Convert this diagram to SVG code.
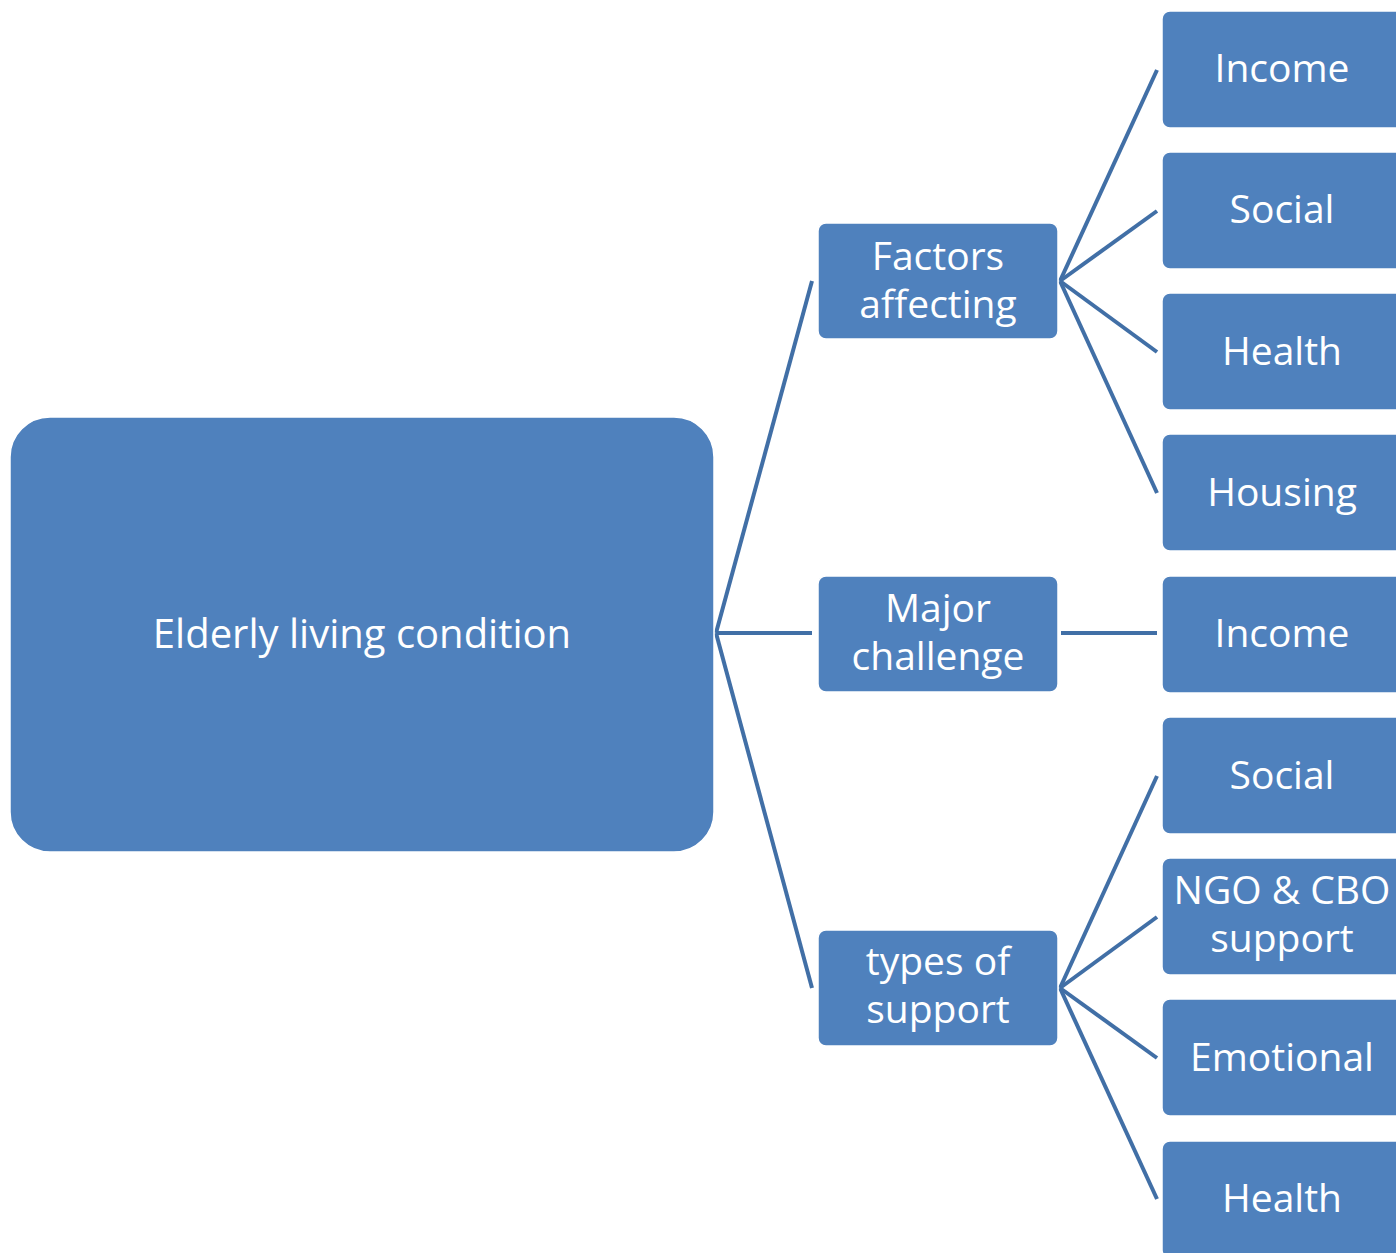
<svg xmlns="http://www.w3.org/2000/svg" width="1396" height="1253" viewBox="0 0 1396 1253">
  <style>
    .box { fill: #4f81bd; stroke: #ffffff; stroke-width: 1.5; }
    .lbl { fill: #ffffff; font-family: "Open Sans", "Noto Sans", sans-serif; font-size: 39px; text-anchor: middle; }
    .lnk { stroke: #416fa6; stroke-width: 4; fill: none; }
  </style>
  <rect width="1396" height="1253" fill="#ffffff"/>

  <!-- connectors -->
  <g id="connectors">
    <path class="lnk" d="M716,633 L812,281"/>
    <path class="lnk" d="M716,633 L812,633"/>
    <path class="lnk" d="M716,633 L812,988"/>
    <path class="lnk" d="M1060,281 L1157,70"/>
    <path class="lnk" d="M1060,281 L1157,211"/>
    <path class="lnk" d="M1060,281 L1157,352"/>
    <path class="lnk" d="M1060,281 L1157,493"/>
    <path class="lnk" d="M1061,633 L1157,633"/>
    <path class="lnk" d="M1060,988 L1157,776"/>
    <path class="lnk" d="M1060,988 L1157,917"/>
    <path class="lnk" d="M1060,988 L1157,1058"/>
    <path class="lnk" d="M1060,988 L1157,1199"/>
  </g>

  <!-- root -->
  <g id="root">
    <rect class="box" x="10" y="417" width="704" height="435" rx="40"/>
    <text class="lbl" x="362" y="648" style="font-size:40px">Elderly living condition</text>
  </g>

  <!-- second level -->
  <g id="factors">
    <rect class="box" x="818" y="223" width="240" height="116" rx="8"/>
    <text class="lbl" x="938" y="270">Factors</text>
    <text class="lbl" x="938" y="318">affecting</text>
  </g>
  <g id="challenge">
    <rect class="box" x="818" y="576" width="240" height="116" rx="8"/>
    <text class="lbl" x="938" y="622">Major</text>
    <text class="lbl" x="938" y="670">challenge</text>
  </g>
  <g id="support">
    <rect class="box" x="818" y="930" width="240" height="116" rx="8"/>
    <text class="lbl" x="938" y="975">types of</text>
    <text class="lbl" x="938" y="1023">support</text>
  </g>

  <!-- third level -->
  <g id="f-income">
    <rect class="box" x="1162" y="11" width="242" height="117" rx="8"/>
    <text class="lbl" x="1282" y="82">Income</text>
  </g>
  <g id="f-social">
    <rect class="box" x="1162" y="152" width="242" height="117" rx="8"/>
    <text class="lbl" x="1282" y="223">Social</text>
  </g>
  <g id="f-health">
    <rect class="box" x="1162" y="293" width="242" height="117" rx="8"/>
    <text class="lbl" x="1282" y="365">Health</text>
  </g>
  <g id="f-housing">
    <rect class="box" x="1162" y="434" width="242" height="117" rx="8"/>
    <text class="lbl" x="1282" y="506">Housing</text>
  </g>
  <g id="c-income">
    <rect class="box" x="1162" y="576" width="242" height="117" rx="8"/>
    <text class="lbl" x="1282" y="647">Income</text>
  </g>
  <g id="s-social">
    <rect class="box" x="1162" y="717" width="242" height="117" rx="8"/>
    <text class="lbl" x="1282" y="789">Social</text>
  </g>
  <g id="s-ngo">
    <rect class="box" x="1162" y="858" width="242" height="117" rx="8"/>
    <text class="lbl" x="1282" y="904">NGO &amp; CBO</text>
    <text class="lbl" x="1282" y="952">support</text>
  </g>
  <g id="s-emotional">
    <rect class="box" x="1162" y="999" width="242" height="117" rx="8"/>
    <text class="lbl" x="1282" y="1071">Emotional</text>
  </g>
  <g id="s-health">
    <rect class="box" x="1162" y="1141" width="242" height="117" rx="8"/>
    <text class="lbl" x="1282" y="1212">Health</text>
  </g>
</svg>
